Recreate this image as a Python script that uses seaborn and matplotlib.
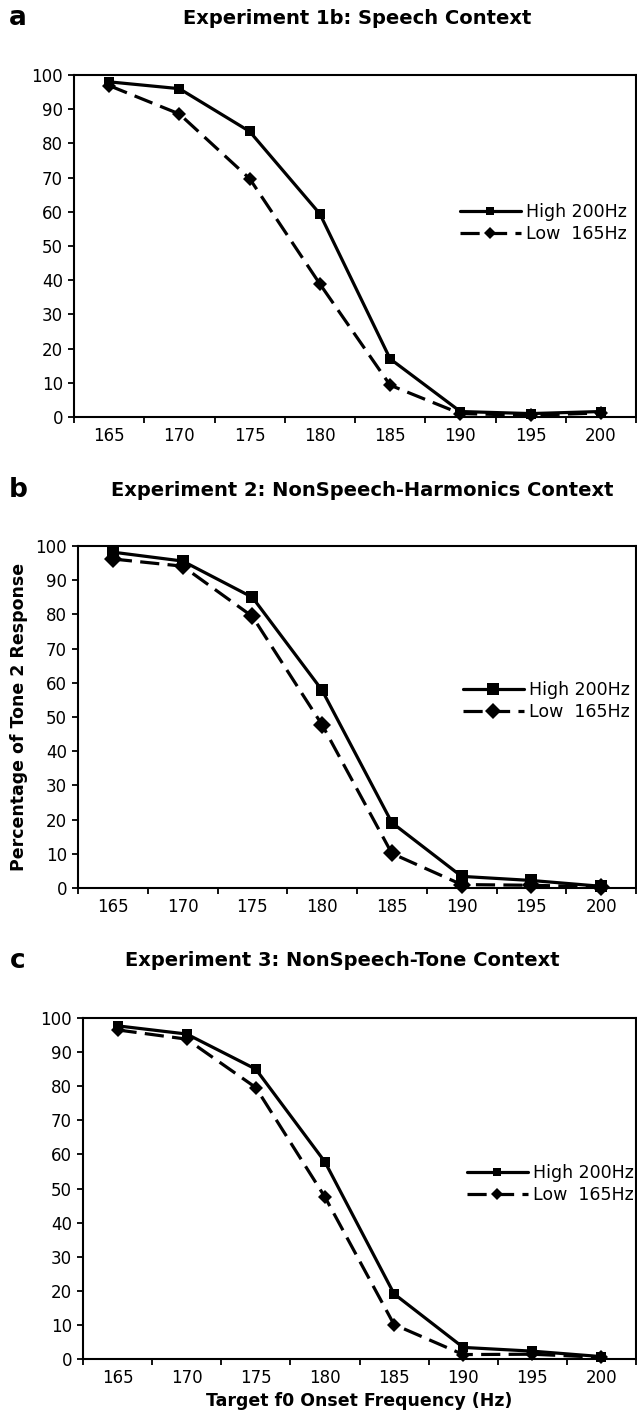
import numpy as np
import pandas as pd
import matplotlib
matplotlib.use('Agg')
import matplotlib.pyplot as plt
import seaborn as sns

# target f0 onset frequencies (Hz)
freqs = [165, 170, 175, 180, 185, 190, 195, 200]
series_names = ['High 200Hz', 'Low  165Hz']

# Experiment 1b: speech context
speech_high = [98.0, 96.0, 83.5, 59.4, 17.0, 1.6, 1.0, 1.6]
speech_low = [96.9, 88.6, 69.7, 38.9, 9.3, 1.0, 0.5, 1.2]

# Experiment 2: nonspeech harmonics context
harm_high = [98.2, 95.6, 85.0, 57.8, 19.1, 3.4, 2.2, 0.5]
harm_low = [96.2, 94.1, 79.4, 47.7, 10.1, 1.0, 0.8, 0.3]

# Experiment 3: nonspeech tone context
tone_high = [97.7, 95.3, 85.0, 57.8, 19.1, 3.4, 2.3, 0.7]
tone_low = [96.5, 93.8, 79.6, 47.5, 10.1, 1.3, 1.4, 0.5]

panel_letters = ['a', 'b', 'c']
panel_titles = ['Experiment 1b: Speech Context',
                'Experiment 2: NonSpeech-Harmonics Context',
                'Experiment 3: NonSpeech-Tone Context']
ylabel = 'Percentage of Tone 2 Response'
xlabel = 'Target f0 Onset Frequency (Hz)'

sns.set_style('ticks')
plt.rcParams['font.family'] = ['DejaVu Sans']
plt.rcParams.update({
    'text.color': 'black', 'axes.labelcolor': 'black', 'axes.edgecolor': 'black',
    'xtick.color': 'black', 'ytick.color': 'black', 'axes.linewidth': 1.5,
})

W, H = 637, 1420
fig = plt.figure(figsize=(W / 100, H / 100), dpi=100)

# axes boxes in pixels: left, top, bottom (right edge at 636 for all)
boxes = [(74, 75, 417), (78, 546, 888), (83, 1018, 1359)]
legend_pos = [(0.687, 0.567), (0.69, 0.547), (0.694, 0.513)]
marker_sizes = [7, 9, 7]
data = [(speech_high, speech_low), (harm_high, harm_low), (tone_high, tone_low)]

for i, ((left, top, bottom), (hi, lo)) in enumerate(zip(boxes, data)):
    ax = fig.add_axes([left / W, 1 - bottom / H, (636 - left) / W, (bottom - top) / H])
    df = pd.DataFrame({
        'freq': freqs * 2,
        'pct': hi + lo,
        'context': [series_names[0]] * len(freqs) + [series_names[1]] * len(freqs),
    })
    sns.lineplot(data=df, x='freq', y='pct', style='context', color='black',
                 markers={series_names[0]: 's', series_names[1]: 'D'},
                 dashes={series_names[0]: '', series_names[1]: (6, 2.6)},
                 linewidth=2.3, markersize=marker_sizes[i], markeredgewidth=0,
                 clip_on=False, ax=ax)

    ax.set_xlim(162.5, 202.5)
    ax.set_ylim(0, 100)
    ax.set_xticks(np.arange(162.5, 203, 5))
    ax.set_xticklabels([])
    ax.set_xticks(freqs, minor=True)
    ax.set_xticklabels([str(f) for f in freqs], minor=True)
    ax.tick_params(axis='x', which='major', direction='out', length=4, width=1.3)
    ax.tick_params(axis='x', which='minor', length=0, pad=7, labelsize=12)
    ax.set_yticks(range(0, 101, 10))
    ax.tick_params(axis='y', direction='out', length=4, width=1.3, pad=4, labelsize=12)
    ax.set_xlabel('')
    ax.set_ylabel('')
    for sp in ax.spines.values():
        sp.set_linewidth(1.5)
        sp.set_color('black')

    handles, labels = ax.get_legend_handles_labels()
    ax.legend(handles, labels, loc='center left', bbox_to_anchor=legend_pos[i],
              frameon=False, fontsize=12.5, handlelength=3.5, handletextpad=0.3,
              labelspacing=0.25, borderpad=0, borderaxespad=0, markerscale=0.9)

    # panel letter and title
    title_y = [18, 490, 961][i]
    title_x = [357, 362, 342][i]
    fig.text(18 / W, 1 - title_y / H, panel_letters[i], fontsize=19, fontweight='bold',
             ha='center', va='center')
    fig.text(title_x / W, 1 - title_y / H, panel_titles[i], fontsize=14,
             fontweight='bold', ha='center', va='center')

    if i == 1:
        ax.set_ylabel(ylabel, fontsize=12.5, fontweight='bold', labelpad=5)
    if i == 2:
        ax.set_xlabel(xlabel, fontsize=12.5, fontweight='bold', labelpad=4)

fig.savefig('out.png', dpi=100)
